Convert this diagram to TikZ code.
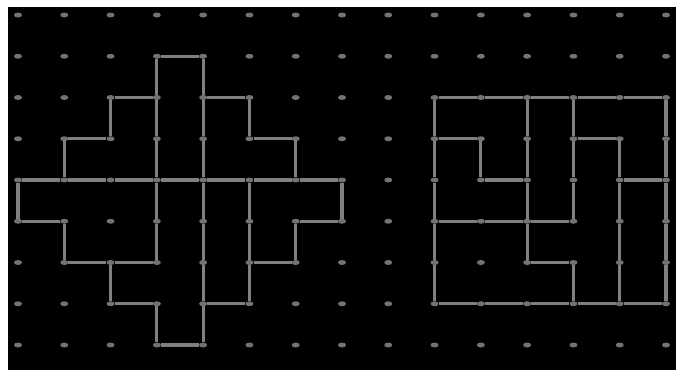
\documentclass[tikz,border=0pt]{standalone}
\usetikzlibrary{shapes.geometric}
\definecolor{linegray}{RGB}{128,128,128}
\definecolor{dotgray}{RGB}{115,115,115}
\begin{document}
\begin{tikzpicture}[x=1pt,y=1pt,
  dotnode/.style={ellipse,fill=dotgray,draw=none,minimum width=8pt,minimum height=5pt,inner sep=0pt},
  seg/.style={draw=linegray,line width=3.2pt}]
\useasboundingbox (0,0) rectangle (678,-370);
\fill[white] (0,0) rectangle (678,-370);
\fill[black] (8,-7) rectangle (676,-370);
\foreach \c in {0,...,14}{
  \foreach \r in {0,...,8}{
    \node[dotnode] (n-\c-\r) at ({18+\c*46.286},{-(15+\r*41.25)}) {};
  }
}
% horizontal segments: column a to a+1 on row r
\foreach \a/\r in {3/1,2/2,4/2,1/3,5/3,0/4,1/4,2/4,3/4,4/4,5/4,6/4,0/5,6/5,1/6,2/6,5/6,2/7,4/7,3/8,
  9/2,10/2,11/2,12/2,13/2,9/3,12/3,10/4,13/4,9/5,10/5,11/5,11/6,9/7,10/7,11/7,12/7,13/7}{
  \pgfmathtruncatemacro{\b}{\a+1}
  \draw[seg] (n-\a-\r) -- (n-\b-\r);
}
% vertical segments: column c from row a to a+1
\foreach \c/\a in {3/1,3/2,3/3,4/1,4/2,4/3,4/4,4/5,4/6,4/7,2/2,1/3,5/2,6/3,0/4,1/5,3/4,3/5,2/6,3/7,5/4,5/5,5/6,7/4,6/5,
  9/2,9/3,9/4,9/5,9/6,10/3,11/2,11/3,11/4,11/5,12/2,12/3,12/4,12/6,13/3,13/4,13/5,13/6,14/2,14/3,14/4,14/5,14/6}{
  \pgfmathtruncatemacro{\b}{\a+1}
  \draw[seg] (n-\c-\a) -- (n-\c-\b);
}
\end{tikzpicture}
\end{document}
